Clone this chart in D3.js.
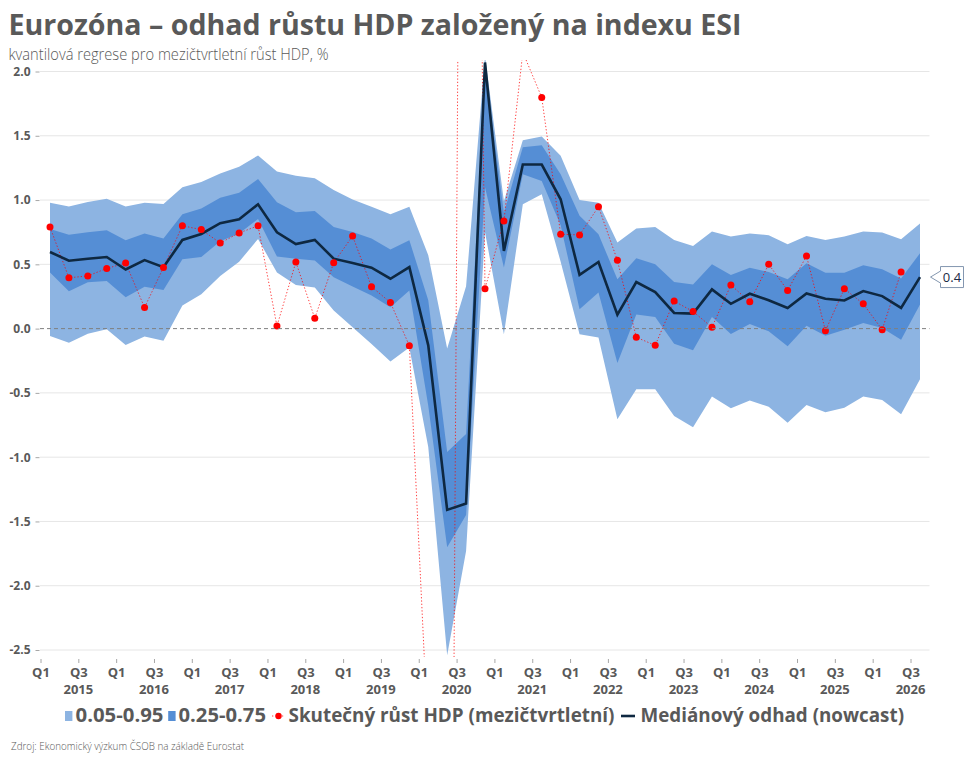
<!DOCTYPE html>
<html><head><meta charset="utf-8">
<script src="https://cdn.jsdelivr.net/npm/d3@7"></script>
<style>
body{margin:0;background:#fff}
svg{display:block}
text{font-family:"Segoe UI","Open Sans","Noto Sans",sans-serif}
</style>
</head><body><svg id="c" width="969" height="762"></svg>
<script>
const quarters = ["2015Q1","2015Q2","2015Q3","2015Q4","2016Q1","2016Q2","2016Q3","2016Q4",
"2017Q1","2017Q2","2017Q3","2017Q4","2018Q1","2018Q2","2018Q3","2018Q4",
"2019Q1","2019Q2","2019Q3","2019Q4","2020Q1","2020Q2","2020Q3","2020Q4",
"2021Q1","2021Q2","2021Q3","2021Q4","2022Q1","2022Q2","2022Q3","2022Q4",
"2023Q1","2023Q2","2023Q3","2023Q4","2024Q1","2024Q2","2024Q3","2024Q4",
"2025Q1","2025Q2","2025Q3","2025Q4","2026Q1","2026Q2","2026Q3"];
const p95 = [0.98,0.95,0.985,1.01,0.95,0.98,0.97,1.10,1.14,1.207,1.26,1.347,1.222,1.19,1.17,1.078,
1.005,0.948,0.89,0.948,0.57,-0.155,0.33,2.12,0.99,1.466,1.494,1.344,1.0,0.98,0.669,0.779,
0.79,0.69,0.643,0.755,0.716,0.74,0.727,0.656,0.721,0.69,0.716,0.755,0.747,0.695,0.818];
const p75 = [0.775,0.73,0.75,0.765,0.687,0.74,0.70,0.89,0.934,1.017,1.056,1.163,0.983,0.905,0.915,0.79,
0.752,0.70,0.615,0.6875,0.22,-0.96,-0.82,2.05,0.9,1.41,1.427,1.20,0.877,0.734,0.383,0.547,
0.50,0.362,0.344,0.5,0.417,0.474,0.44,0.383,0.508,0.435,0.435,0.492,0.461,0.39,0.586];
const median = [0.596,0.528,0.544,0.557,0.46,0.533,0.478,0.69,0.736,0.82,0.85,0.967,0.749,0.658,0.69,0.544,
0.51,0.474,0.388,0.479,-0.13,-1.41,-1.36,2.07,0.604,1.276,1.276,1.006,0.418,0.518,0.109,0.362,
0.284,0.122,0.117,0.305,0.193,0.271,0.221,0.161,0.273,0.232,0.219,0.292,0.253,0.161,0.401];
const p25 = [0.437,0.29,0.36,0.37,0.244,0.325,0.30,0.54,0.557,0.68,0.74,0.853,0.56,0.544,0.53,0.40,
0.328,0.258,0.166,0.297,-0.6,-1.7,-1.45,1.1,0.475,1.20,1.149,0.804,0.15,0.28,-0.268,0.109,
0.091,-0.117,-0.169,0.091,-0.042,0.036,-0.02,-0.138,0.023,-0.055,-0.008,0.044,0.005,-0.086,0.1875];
const p05 = [-0.057,-0.11,-0.04,-0.005,-0.127,-0.062,-0.094,0.18,0.268,0.41,0.52,0.697,0.437,0.34,0.32,0.14,
0.01,-0.12,-0.255,-0.146,-0.92,-2.54,-1.73,0.75,-0.044,0.968,1.045,0.52,-0.044,-0.07,-0.706,-0.471,
-0.471,-0.68,-0.768,-0.529,-0.62,-0.56,-0.607,-0.732,-0.594,-0.651,-0.615,-0.529,-0.555,-0.667,-0.393];
const actual = [0.79,0.395,0.41,0.468,0.51,0.164,0.476,0.80,0.77,0.666,0.744,0.80,0.02,0.518,0.08,0.513,
0.72,0.326,0.203,-0.133,-3.2,-11.1,12.4,0.31,0.838,2.15,1.798,0.734,0.729,0.948,0.531,-0.068,
-0.13,0.214,0.133,0.01,0.339,0.208,0.50,0.297,0.565,-0.016,0.31,0.193,-0.008,0.44,null];
const yTicks = [2.0,1.5,1.0,0.5,0.0,-0.5,-1.0,-1.5,-2.0,-2.5];
const legendLabels = ["0.05-0.95","0.25-0.75","Skutečný růst HDP (mezičtvrtletní)","Mediánový odhad (nowcast)"];

const C = {light:"#8db4e2", dark:"#558ed5", med:"#0e2841", red:"#ff0000", txt:"#595959", grid:"#e6e6e6"};
const svg = d3.select("#c");

const x = d3.scalePoint().domain(quarters).range([50, 920]);
const xa = d3.scalePoint().domain(quarters).range([40.5, 910.5]);
const y = d3.scaleLinear().domain([-2.5, 2.0]).range([650, 71.5]);

// title
svg.append("text").attr("x",8.5).attr("y",35).attr("fill",C.txt).attr("font-size",29).attr("font-weight",700)
  .attr("textLength",733).attr("lengthAdjust","spacingAndGlyphs").text("Eurozóna – odhad růstu HDP založený na indexu ESI");
svg.append("text").attr("x",8.5).attr("y",60).attr("fill",C.txt).attr("font-size",15.5).attr("font-weight",300)
  .attr("textLength",320).attr("lengthAdjust","spacingAndGlyphs").text("kvantilová regrese pro mezičtvrtletní růst HDP, %");

// gridlines
svg.append("g").selectAll("line").data(yTicks.filter(d=>d!==0)).join("line")
  .attr("x1",40).attr("x2",929.5).attr("y1",d=>y(d)).attr("y2",d=>y(d))
  .attr("stroke",C.grid).attr("stroke-width",1);

// clip
svg.append("defs").append("clipPath").attr("id","plot").append("rect")
  .attr("x",40).attr("y",60).attr("width",890).attr("height",597);
const g = svg.append("g").attr("clip-path","url(#plot)");

const idx = d3.range(quarters.length);
const areaOuter = d3.area().x(i=>x(quarters[i])).y0(i=>y(p05[i])).y1(i=>y(p95[i]));
const areaInner = d3.area().x(i=>x(quarters[i])).y0(i=>y(p25[i])).y1(i=>y(p75[i]));
g.append("path").attr("d",areaOuter(idx)).attr("fill",C.light);
g.append("path").attr("d",areaInner(idx)).attr("fill",C.dark);

// zero line
svg.append("line").attr("x1",40).attr("x2",929.5).attr("y1",y(0)).attr("y2",y(0))
  .attr("stroke","#7f7f7f").attr("stroke-width",1).attr("stroke-dasharray","4,3");

// actual dotted line
const actLine = d3.line().defined(i=>actual[i]!==null).x(i=>x(quarters[i])).y(i=>y(actual[i]));
g.append("path").attr("d",actLine(idx)).attr("fill","none").attr("stroke",C.red).attr("stroke-opacity",0.75)
  .attr("stroke-width",1).attr("stroke-dasharray","1.3,2");

// median
const medLine = d3.line().x(i=>x(quarters[i])).y(i=>y(median[i]));
g.append("path").attr("d",medLine(idx)).attr("fill","none").attr("stroke",C.med).attr("stroke-width",2.6)
  .attr("stroke-linejoin","miter");

// dots
g.append("g").selectAll("circle").data(idx.filter(i=>actual[i]!==null)).join("circle")
  .attr("cx",i=>x(quarters[i])).attr("cy",i=>y(actual[i])).attr("r",3.5).attr("fill",C.red);

// y axis
const yAx = svg.append("g").attr("transform","translate(39.5,0)")
  .call(d3.axisLeft(y).tickValues(yTicks).tickFormat(d=>d.toFixed(1)).tickSize(4).tickPadding(5));
yAx.select(".domain").remove();
yAx.selectAll("line").attr("stroke","#a6a6a6");
yAx.selectAll("text").attr("fill",C.txt).attr("font-size",12).attr("font-weight",700)
  .style("font-family",'"Segoe UI","Open Sans",sans-serif');

// x axis
const xTickVals = quarters.filter((q,i)=>i%2===0);
const xAx = svg.append("g").attr("transform","translate(0,659)")
  .call(d3.axisBottom(xa).tickValues(xTickVals).tickFormat(q=>q.slice(4)).tickSize(4).tickPadding(5));
xAx.select(".domain").remove();
xAx.selectAll("line").attr("stroke","#a6a6a6");
xAx.selectAll("text").attr("fill",C.txt).attr("font-size",13).attr("font-weight",700)
  .style("font-family",'"Segoe UI","Open Sans",sans-serif');
// years under Q3
svg.append("g").selectAll("text").data(quarters.filter(q=>q.endsWith("Q3"))).join("text")
  .attr("x",q=>xa(q)).attr("y",693.5).attr("text-anchor","middle").attr("fill",C.txt)
  .attr("font-size",13).attr("font-weight",700).text(q=>q.slice(0,4));

// callout for last median
const li = quarters.length-1;
const tx = x(quarters[li])+10.5, ty = y(median[li]);
const bx = tx+10;
svg.append("path").attr("d",`M${tx},${ty} L${bx},${ty-6} L${bx},${ty-10.5} L${bx+23},${ty-10.5} L${bx+23},${ty+10.5} L${bx},${ty+10.5} L${bx},${ty+6} Z`)
  .attr("fill","#fff").attr("stroke","#8497b0").attr("stroke-width",1);
svg.append("text").attr("x",bx+11.5).attr("y",ty+4.5).attr("text-anchor","middle").attr("fill","#1a2a44")
  .attr("font-size",13).text(d3.format(".1f")(median[li]));

// legend
const lg = svg.append("g");
const ly = 716;
lg.append("rect").attr("x",65).attr("y",ly-5).attr("width",7.4).attr("height",10).attr("fill",C.light);
lg.append("text").attr("x",75.5).attr("y",ly+6).attr("fill",C.txt).attr("font-size",19).attr("font-weight",700)
  .attr("textLength",88).attr("lengthAdjust","spacingAndGlyphs").text(legendLabels[0]);
lg.append("rect").attr("x",168.2).attr("y",ly-5).attr("width",7.4).attr("height",10).attr("fill",C.dark);
lg.append("text").attr("x",178.5).attr("y",ly+6).attr("fill",C.txt).attr("font-size",19).attr("font-weight",700)
  .attr("textLength",87.5).attr("lengthAdjust","spacingAndGlyphs").text(legendLabels[1]);
lg.append("line").attr("x1",272).attr("x2",284).attr("y1",ly).attr("y2",ly).attr("stroke",C.red)
  .attr("stroke-opacity",0.75).attr("stroke-width",1).attr("stroke-dasharray","1.3,2");
lg.append("circle").attr("cx",278.5).attr("cy",ly).attr("r",3.2).attr("fill",C.red);
lg.append("text").attr("x",288.5).attr("y",ly+6).attr("fill",C.txt).attr("font-size",19).attr("font-weight",700)
  .attr("textLength",326).attr("lengthAdjust","spacingAndGlyphs").text(legendLabels[2]);
lg.append("line").attr("x1",621).attr("x2",635).attr("y1",ly).attr("y2",ly).attr("stroke",C.med).attr("stroke-width",2.6);
lg.append("text").attr("x",640.5).attr("y",ly+6).attr("fill",C.txt).attr("font-size",19).attr("font-weight",700)
  .attr("textLength",263.5).attr("lengthAdjust","spacingAndGlyphs").text(legendLabels[3]);

// source
svg.append("text").attr("x",11).attr("y",749.5).attr("fill",C.txt).attr("font-size",10).attr("font-weight",300)
  .attr("textLength",233).attr("lengthAdjust","spacingAndGlyphs").text("Zdroj: Ekonomický výzkum ČSOB na základě Eurostat");
</script>
</body></html>
